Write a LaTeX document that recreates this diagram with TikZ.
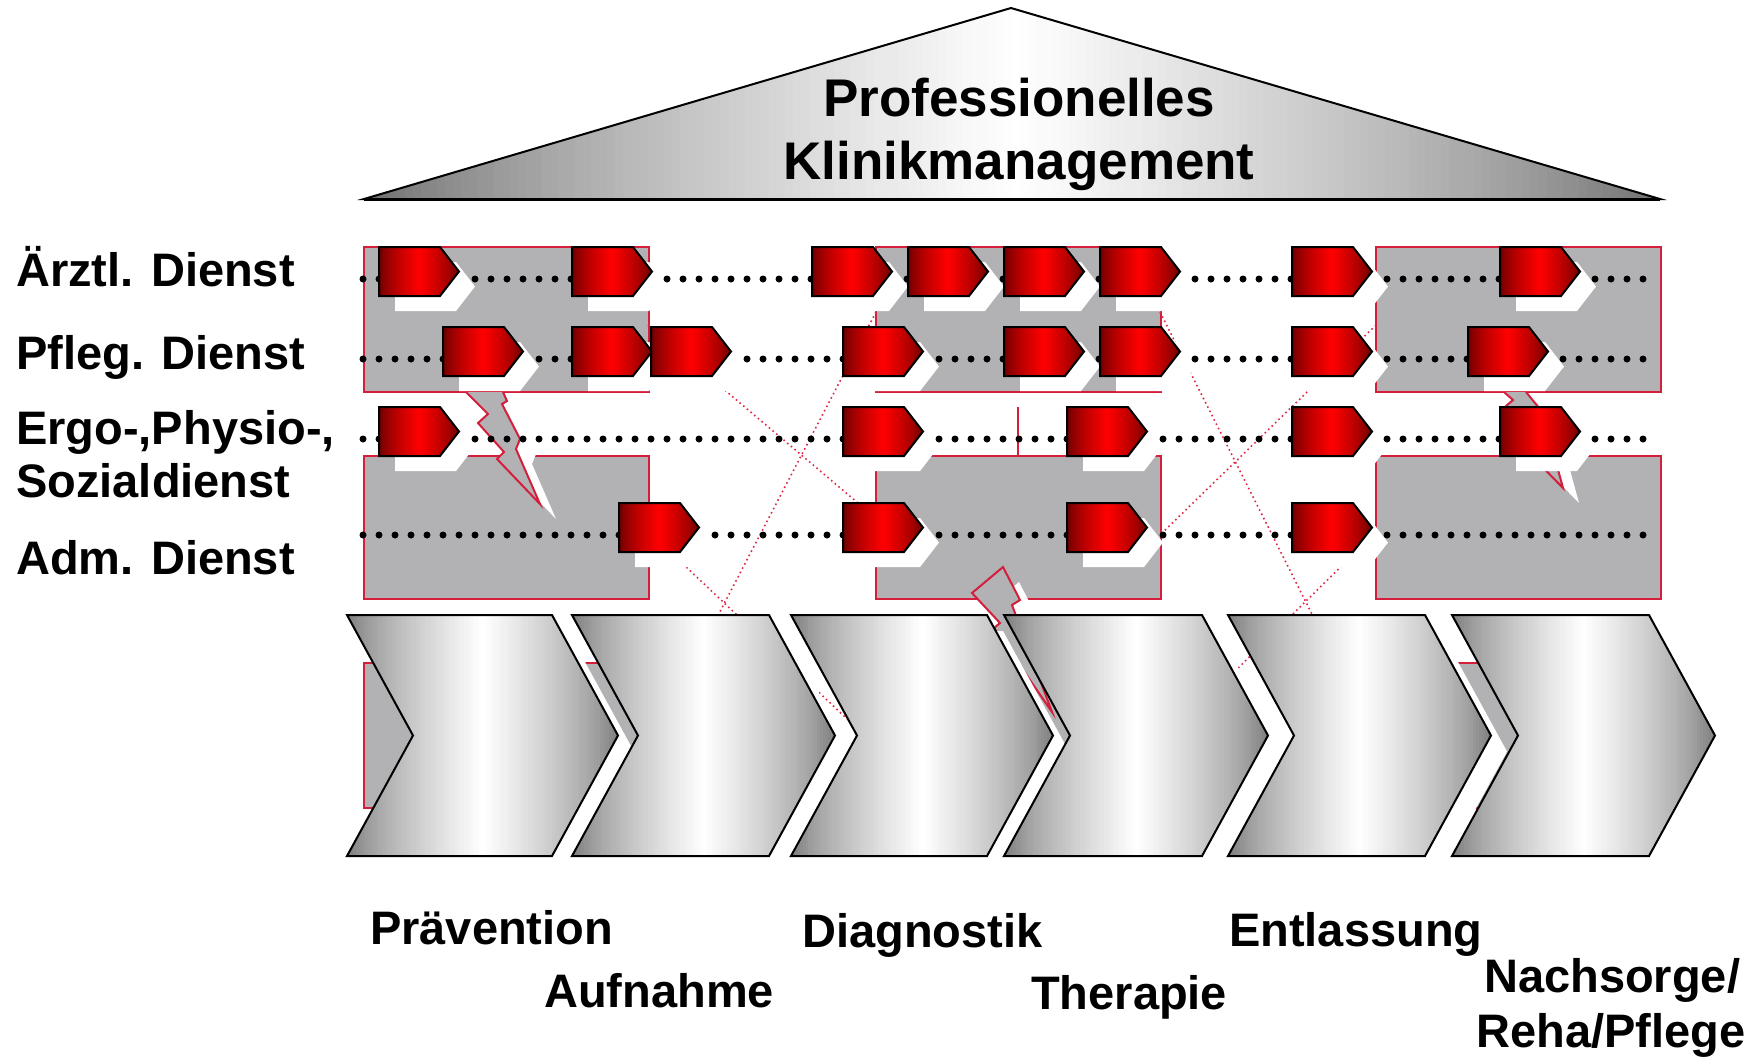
\documentclass[tikz,border=0pt]{standalone}
\usepackage{fontspec}
\setmainfont{Liberation Sans}
\definecolor{boxgray}{RGB}{178,178,180}
\definecolor{boxred}{RGB}{212,30,60}
\definecolor{dotred}{RGB}{225,40,70}
\definecolor{darkred}{RGB}{100,0,0}
\definecolor{brightred}{RGB}{255,0,0}
\definecolor{chevgray}{RGB}{120,120,120}
\definecolor{roofgray}{RGB}{105,105,105}
\tikzset{
  boxst/.style={fill=boxgray, draw=boxred, line width=2pt},
  reddots/.style={draw=dotred, line width=1.6pt, dash pattern=on 1.6pt off 3.2pt},
  lanedots/.style={draw=black, line width=7pt, line cap=round, dash pattern=on 0pt off 16pt},
  outl/.style={draw=black, line width=2pt, line join=miter},
  shadowst/.style={fill=white},
  boltfill/.style={fill=boxgray},
  boltline/.style={draw=boxred, line width=2pt, line join=miter},
  lab/.style={inner sep=0pt, anchor=base west, font=\fontsize{47}{56}\selectfont\bfseries},
  titlest/.style={inner sep=0pt, anchor=base, font=\fontsize{53}{63}\selectfont\bfseries},
}
% horizontal three-colour gradient by strips:
% #1 clip path, #2 x0, #3 x1, #4 y0, #5 y1, #6 left, #7 middle, #8 right, #9 strips
\newcommand{\hgrad}[9]{%
 \begin{scope}
  \clip #1;
  \pgfmathtruncatemacro\gN{#9}%
  \pgfmathtruncatemacro\gH{#9/2}%
  \pgfmathtruncatemacro\gM{#9-1}%
  \pgfmathsetmacro\gW{(#3-(#2))/\gN}%
  \foreach \gi in {0,...,\gM}{
    \pgfmathsetmacro\gxa{#2+\gW*\gi}
    \pgfmathsetmacro\gxb{#2+\gW*(\gi+1)+1.2}
    \ifnum\gi<\gH\relax
      \pgfmathtruncatemacro\gp{100*pow((\gi+0.5)/\gH,0.7)}
      \fill[#7!\gp!#6] (\gxa,#4) rectangle (\gxb,#5);
    \else
      \pgfmathtruncatemacro\gp{100-100*pow(1-(\gi-\gH+0.5)/\gH,0.7)}
      \fill[#8!\gp!#7] (\gxa,#4) rectangle (\gxb,#5);
    \fi
  }
 \end{scope}}
\begin{document}
\begin{tikzpicture}[x=1pt,y=-1pt]
\useasboundingbox (0,0) rectangle (1756,1061);

% roof
\hgrad{(364,199) -- (1011,8) -- (1660,199) -- cycle}{364}{1660}{6}{201}{roofgray}{white}{roofgray}{160}
\path[outl] (364,199) -- (1011,8) -- (1660,199) -- cycle;
\draw[line width=3pt] (364,199) -- (1660,199);
\node[titlest] (t1) at (1019,116) {Professionelles};
\node[titlest] (t2) at (1019,179) {Klinikmanagement};

% gray boxes
\foreach \bx in {364,876,1376}{
  \foreach \by/\bh in {247/145,456/143,663/145}{
    \path[boxst] (\bx,\by) rectangle ++(285,\bh);
  }
}

% red dotted connections
\draw[reddots] (876,312) -- (700,650);
\draw[reddots] (648,325) -- (858,503);
\draw[reddots] (648,531) -- (880,750);
\draw[reddots] (1160,312) -- (1330,650);
\draw[reddots] (1376,325) -- (1160,535);
\draw[reddots] (1376,532) -- (1150,755);

% small red divider
\draw[boxred, line width=2pt] (1018,407) -- (1018,456);

% bolt 1
\fill[shadowst] (482,407) -- (504,429) -- (494,438) -- (520,467) -- (513,474) -- (556,519) -- (532,464) -- (536,454) -- (518,419) -- (523,416) -- (519,407) -- cycle;
\fill[boltfill] (466,392) -- (488,414) -- (478,423) -- (504,452) -- (497,459) -- (540,504) -- (516,449) -- (520,439) -- (502,404) -- (507,401) -- (503,392) -- cycle;
\draw[boltline] (466,392) -- (488,414) -- (478,423) -- (504,452) -- (497,459) -- (540,504) -- (516,449) -- (520,439) -- (502,404) -- (507,401) -- (503,392);

% bolt 3
\fill[shadowst] (1520,407) -- (1529,415) -- (1522,421) -- (1544,455) -- (1538,461) -- (1579,503) -- (1570,470) -- (1574,465) -- (1556,433) -- (1560,429) -- (1542,407) -- cycle;
\fill[boltfill] (1504,392) -- (1513,400) -- (1506,406) -- (1528,440) -- (1522,446) -- (1563,488) -- (1554,455) -- (1558,450) -- (1540,418) -- (1544,414) -- (1526,392) -- cycle;
\draw[boltline] (1504,392) -- (1513,400) -- (1506,406) -- (1528,440) -- (1522,446) -- (1563,488) -- (1554,455) -- (1558,450) -- (1540,418) -- (1544,414) -- (1526,392);

% bolt 2
\fill[shadowst] (988,608) -- (1019,582) -- (1036,615) -- (1028,620) -- (1068,727) -- (1010,643) -- (1016,638) -- cycle;
\path[boltfill, boltline] (972,593) -- (1003,567) -- (1020,600) -- (1012,605) -- (1052,712) -- (994,628) -- (1000,623) -- cycle;

% lane dots
\foreach \ly in {279,359,439,535}{
  \draw[lanedots] (363,\ly) -- (1646,\ly);
}

% red step arrows: shadows then arrows
\newcommand{\arrowlist}{379/247,572/247,812/247,908/247,1004/247,1100/247,1292/247,1500/247,
  443/327,572/327,651/327,843/327,1004/327,1100/327,1292/327,1468/327,
  379/407,843/407,1067/407,1292/407,1500/407,
  619/503,843/503,1067/503,1292/503}
\foreach \ax/\ay in \arrowlist{
  \fill[shadowst] ({\ax+16},{\ay+15}) -- ++(61,0) -- ++(19,24.5) -- ++(-19,24.5) -- ++(-61,0) -- cycle;
}
\foreach \ax/\ay in \arrowlist{
  \hgrad{(\ax,\ay) -- ++(61,0) -- ++(19,24.5) -- ++(-19,24.5) -- ++(-61,0) -- cycle}{\ax}{\ax+80}{\ay-1}{\ay+50}{darkred}{brightred}{darkred}{40}
  \path[outl] (\ax,\ay) -- ++(61,0) -- ++(19,24.5) -- ++(-19,24.5) -- ++(-61,0) -- cycle;
}

% chevrons: shadows then shapes
\newcommand{\chevlist}{347/205,572/197,791/196,1004/198,1228/197,1452/197}
\foreach \cx/\cw in \chevlist{
  \fill[shadowst] ({\cx+16},631) -- ({\cx+\cw+16},631) -- ({\cx+\cw+82},751.5) -- ({\cx+\cw+16},872) -- ({\cx+16},872) -- ({\cx+82},751.5) -- cycle;
}
\foreach \cx/\cw in \chevlist{
  \hgrad{(\cx,615) -- ({\cx+\cw},615) -- ({\cx+\cw+66},735.5) -- ({\cx+\cw},856) -- (\cx,856) -- ({\cx+66},735.5) -- cycle}{\cx}{\cx+\cw+66}{613}{858}{chevgray}{white}{chevgray}{90}
  \path[outl] (\cx,615) -- ({\cx+\cw},615) -- ({\cx+\cw+66},735.5) -- ({\cx+\cw},856) -- (\cx,856) -- ({\cx+66},735.5) -- cycle;
}

% lane labels
\node[lab] (l1) at (16,286) {Ärztl. Dienst};
\node[lab] (l2) at (16,369) {Pfleg. Dienst};
\node[lab] (l3) at (16,444) {Ergo-,Physio-,};
\node[lab] (l4) at (16,497) {Sozialdienst};
\node[lab] (l5) at (16,574) {Adm. Dienst};

% phase labels
\node[lab] (p1) at (370,944) {Prävention};
\node[lab] (p2) at (544,1007) {Aufnahme};
\node[lab] (p3) at (802,947) {Diagnostik};
\node[lab] (p4) at (1031,1009) {Therapie};
\node[lab] (p5) at (1229,946) {Entlassung};
\node[lab] (p6) at (1484,992) {Nachsorge/};
\node[lab] (p7) at (1476,1047) {Reha/Pflege};
\end{tikzpicture}
\end{document}
